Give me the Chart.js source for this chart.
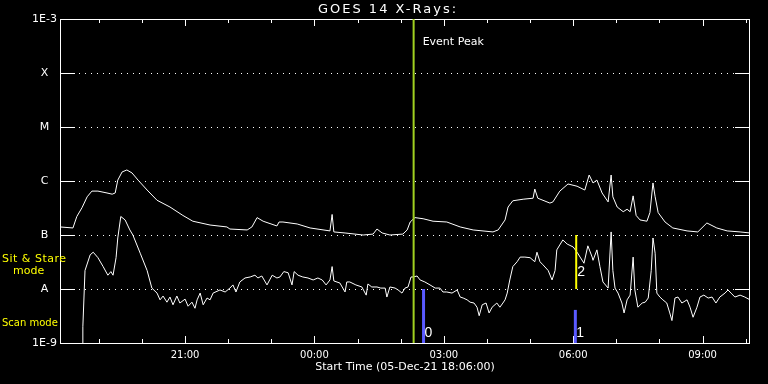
<!DOCTYPE html>
<html>
<head>
<meta charset="utf-8">
<script src="https://cdn.jsdelivr.net/npm/chart.js@4.4.0/dist/chart.umd.min.js"></script>
<style>
  html, body { margin: 0; padding: 0; background: #000; }
</style>
</head>
<body>
<canvas id="goes" width="768" height="384"></canvas>
<script>
// --- データ (時刻は 05-Dec-21 00:00 からの経過時間 [h]) ---
const longTime = [
  18.10, 18.40, 18.49, 18.61, 18.73, 18.84, 18.98, 19.19, 19.31, 19.38,
  19.44, 19.54, 19.65, 19.77, 19.91, 20.12, 20.35, 20.65, 20.95, 21.18,
  21.58, 21.97, 22.04, 22.44, 22.55, 22.67, 22.81, 23.13, 23.18, 23.27,
  23.60, 23.90, 24.36, 24.41, 24.45, 24.71, 25.13, 25.36, 25.45, 25.57,
  25.75, 26.05, 26.15, 26.22, 26.33, 26.52, 26.75, 27.07, 27.38, 27.68,
  28.14, 28.26, 28.42, 28.49, 28.60, 28.84, 29.07, 29.11, 29.18, 29.46,
  29.53, 29.69, 29.88, 30.09, 30.27, 30.37, 30.46, 30.55, 30.67, 30.81,
  30.88, 30.92, 31.02, 31.16, 31.25, 31.32, 31.39, 31.46, 31.55, 31.71,
  31.78, 31.85, 31.90, 31.97, 32.13, 32.31, 32.64, 32.89, 33.10, 33.33,
  33.57, 33.87, 34.10
];
const longFlux = [
  1.41e-7, 1.35e-7, 2.2e-7, 3.2e-7, 5.1e-7, 6.5e-7, 6.5e-7, 6.0e-7, 5.7e-7, 6.0e-7,
  1.04e-6, 1.47e-6, 1.6e-6, 1.41e-6, 1.04e-6, 6.8e-7, 4.4e-7, 3.3e-7, 2.3e-7, 1.8e-7,
  1.53e-7, 1.41e-7, 1.29e-7, 1.24e-7, 1.41e-7, 2.1e-7, 1.8e-7, 1.47e-7, 1.74e-7, 1.74e-7,
  1.6e-7, 1.35e-7, 1.19e-7, 2.4e-7, 1.14e-7, 1.09e-7, 1.0e-7, 1.04e-7, 1.29e-7, 1.09e-7,
  1.0e-7, 1.04e-7, 1.24e-7, 1.74e-7, 2.1e-7, 2.0e-7, 1.8e-7, 1.74e-7, 1.41e-7, 1.24e-7,
  1.14e-7, 1.24e-7, 1.9e-7, 3.3e-7, 4.3e-7, 4.6e-7, 4.8e-7, 7.1e-7, 4.8e-7, 3.9e-7,
  4.1e-7, 6.5e-7, 8.8e-7, 8.0e-7, 6.8e-7, 1.29e-6, 9.2e-7, 1.04e-6, 6.0e-7, 4.1e-7,
  1.29e-6, 5.1e-7, 3.3e-7, 2.7e-7, 3.0e-7, 2.7e-7, 5.3e-7, 2.3e-7, 1.9e-7, 1.8e-7,
  2.6e-7, 9.2e-7, 5.1e-7, 2.6e-7, 1.74e-7, 1.35e-7, 1.19e-7, 1.14e-7, 1.67e-7, 1.35e-7,
  1.19e-7, 1.14e-7, 1.09e-7
];

const shortTime = [
  18.63, 18.63, 18.68, 18.80, 18.87, 18.98, 19.10, 19.21, 19.28, 19.33,
  19.40, 19.44, 19.51, 19.61, 19.72, 19.79, 19.96, 20.12, 20.23, 20.35,
  20.42, 20.49, 20.58, 20.65, 20.72, 20.81, 20.88, 21.00, 21.07, 21.16,
  21.23, 21.28, 21.35, 21.42, 21.51, 21.58, 21.65, 21.81, 21.93, 22.04,
  22.11, 22.18, 22.27, 22.39, 22.51, 22.62, 22.69, 22.78, 22.90, 23.02,
  23.13, 23.20, 23.29, 23.39, 23.48, 23.53, 23.62, 23.73, 23.85, 23.97,
  24.08, 24.18, 24.27, 24.36, 24.41, 24.45, 24.59, 24.71, 24.75, 24.82,
  24.96, 25.10, 25.20, 25.24, 25.33, 25.45, 25.54, 25.64, 25.68, 25.75,
  25.87, 25.94, 26.03, 26.10, 26.17, 26.24, 26.29, 26.38, 26.45, 26.56,
  26.68, 26.80, 26.91, 26.98, 27.07, 27.19, 27.31, 27.38, 27.45, 27.54,
  27.61, 27.70, 27.77, 27.82, 27.89, 27.98, 28.05, 28.12, 28.23, 28.30,
  28.37, 28.42, 28.47, 28.53, 28.60, 28.70, 28.77, 28.88, 29.00, 29.11,
  29.16, 29.23, 29.30, 29.42, 29.51, 29.58, 29.62, 29.76, 29.86, 30.00,
  30.09, 30.16, 30.25, 30.34, 30.44, 30.46, 30.55, 30.62, 30.69, 30.81,
  30.88, 30.92, 30.97, 31.04, 31.13, 31.18, 31.25, 31.32, 31.39, 31.43,
  31.50, 31.60, 31.67, 31.74, 31.81, 31.85, 31.90, 31.94, 32.01, 32.08,
  32.17, 32.24, 32.29, 32.36, 32.43, 32.52, 32.64, 32.71, 32.78, 32.87,
  32.94, 33.03, 33.13, 33.22, 33.31, 33.40, 33.52, 33.59, 33.66, 33.75,
  33.87, 33.98, 34.10
];
const shortFlux = [
  1.0e-9, 2.0e-9, 2.2e-8, 4.3e-8, 4.8e-8, 3.8e-8, 2.6e-8, 1.8e-8, 2.1e-8, 1.8e-8,
  3.8e-8, 8.8e-8, 2.2e-7, 1.9e-7, 1.24e-7, 1.0e-7, 4.6e-8, 2.2e-8, 1.04e-8, 8.4e-9,
  6.3e-9, 7.4e-9, 5.7e-9, 7.1e-9, 5.1e-9, 7.4e-9, 5.5e-9, 6.5e-9, 4.8e-9, 5.7e-9,
  4.4e-9, 6.3e-9, 8.4e-9, 5.1e-9, 6.8e-9, 6.3e-9, 8.4e-9, 9.6e-9, 8.8e-9, 1.04e-8,
  1.19e-8, 8.8e-9, 1.35e-8, 1.6e-8, 1.67e-8, 1.8e-8, 1.6e-8, 1.74e-8, 1.19e-8, 1.8e-8,
  1.6e-8, 1.67e-8, 2.1e-8, 2.0e-8, 1.19e-8, 2.1e-8, 1.8e-8, 1.67e-8, 1.6e-8, 1.47e-8,
  1.6e-8, 1.47e-8, 1.19e-8, 1.47e-8, 2.6e-8, 1.41e-8, 1.29e-8, 8.8e-9, 1.35e-8, 1.35e-8,
  1.19e-8, 1.09e-8, 7.7e-9, 1.24e-8, 1.09e-8, 1.09e-8, 1.04e-8, 1.04e-8, 7.1e-9, 1.09e-8,
  1.04e-8, 9.6e-9, 8.4e-9, 1.04e-8, 1.09e-8, 1.67e-8, 1.67e-8, 1.74e-8, 1.47e-8, 1.35e-8,
  1.19e-8, 1.04e-8, 1.04e-8, 8.8e-9, 8.8e-9, 8.4e-9, 9.6e-9, 7.1e-9, 6.8e-9, 6.3e-9,
  5.7e-9, 5.5e-9, 4.6e-9, 3.2e-9, 5.1e-9, 5.5e-9, 3.6e-9, 4.6e-9, 5.5e-9, 4.6e-9,
  5.5e-9, 6.3e-9, 8.4e-9, 1.47e-8, 2.6e-8, 3.2e-8, 3.9e-8, 3.9e-8, 3.8e-8, 3.2e-8,
  4.8e-8, 3.2e-8, 2.8e-8, 2.2e-8, 1.47e-8, 2.2e-8, 5.3e-8, 8.1e-8, 6.8e-8, 6.0e-8,
  4.8e-8, 3.9e-8, 3.0e-8, 6.3e-8, 3.9e-8, 3.4e-8, 5.3e-8, 2.6e-8, 1.35e-8, 1.04e-8,
  1.14e-7, 2.2e-8, 1.04e-8, 8.4e-9, 5.5e-9, 3.6e-9, 6.3e-9, 7.7e-9, 3.9e-8, 9.6e-9,
  4.6e-9, 5.5e-9, 5.7e-9, 6.8e-9, 2.2e-8, 8.8e-8, 4.6e-8, 8.4e-9, 7.1e-9, 6.3e-9,
  5.5e-9, 3.6e-9, 2.6e-9, 6.8e-9, 7.1e-9, 5.5e-9, 6.3e-9, 4.6e-9, 3.0e-9, 4.6e-9,
  7.1e-9, 7.7e-9, 6.8e-9, 7.1e-9, 5.5e-9, 7.1e-9, 8.4e-9, 9.6e-9, 8.4e-9, 7.1e-9,
  7.7e-9, 7.1e-9, 6.3e-9
];

// 軸
const fluxLevels = [1e-9, 1e-8, 1e-7, 1e-6, 1e-5, 1e-4, 1e-3];
const fluxLabels = ["1E-9", "A", "B", "C", "M", "X", "1E-3"];
const hourTicks = [19, 20, 21, 22, 23, 24, 25, 26, 27, 28, 29, 30, 31, 32, 33, 34];
const labelHours = [21, 24, 27, 30, 33];
const labelTexts = ["21:00", "00:00", "03:00", "06:00", "09:00"];
const timeRange = [18.1, 34.1];

// マーカー
const peakTime = 26.30;
const scanTimes = [26.53, 30.05];
const scanTops = [1e-8, 4.1e-9];
const scanNames = ["0", "1"];
const stareTimes = [30.07];
const stareRange = [1e-8, 1e-7];
const stareNames = ["2"];

const toXY = (ts, vs) => ts.map((t, i) => ({ x: t, y: vs[i] }));

function lineDs(data, color, width, order) {
  return { data, borderColor: color, borderWidth: width, pointRadius: 0, tension: 0, order };
}

const datasets = [
  lineDs(toXY(longTime, longFlux), "#fff", 1, 2),
  lineDs(toXY(shortTime, shortFlux), "#fff", 1, 2),
  lineDs([{ x: peakTime, y: 1e-9 }, { x: peakTime, y: 1e-3 }], "#a0d020", 2, 0)
];
scanTimes.forEach((t, i) => datasets.push(lineDs([{ x: t, y: 1e-9 }, { x: t, y: scanTops[i] }], "#5a5aff", 3, 1)));
stareTimes.forEach(t => datasets.push(lineDs([{ x: t, y: stareRange[0] }, { x: t, y: stareRange[1] }], "#ffff00", 2, 0)));

// --- 枠・目盛り・文字 ---
const goesFrame = {
  id: "goesFrame",
  beforeDatasetsDraw(chart) {
    const { ctx, chartArea: a, scales: { x, y } } = chart;
    ctx.save();
    ctx.strokeStyle = "#fff";
    ctx.lineWidth = 1;
    const seg = (x1, y1, x2, y2) => { ctx.beginPath(); ctx.moveTo(x1, y1); ctx.lineTo(x2, y2); ctx.stroke(); };

    // 水平グリッド（点線）
    fluxLevels.slice(1, -1).forEach(v => {
      const py = Math.round(y.getPixelForValue(v)) + 0.5;
      ctx.setLineDash([]);
      seg(a.left, py, a.left + 15, py);
      seg(a.right - 15, py, a.right, py);
      ctx.setLineDash([1, 5]);
      seg(a.left + 19, py, a.right - 15, py);
    });
    ctx.setLineDash([]);

    // 枠
    ctx.strokeRect(a.left + 0.5, a.top + 0.5, a.right - a.left - 1, a.bottom - a.top);

    // 時刻の目盛り
    hourTicks.forEach(h => {
      const px = Math.round(x.getPixelForValue(h)) + 0.5;
      const len = labelHours.includes(h) ? 7 : 4;
      seg(px, a.bottom, px, a.bottom - len);
      seg(px, a.top, px, a.top + len);
    });
    ctx.restore();
  },
  afterDraw(chart) {
    const { ctx, chartArea: a, scales: { x, y } } = chart;
    ctx.save();
    ctx.fillStyle = "#fff";
    ctx.textBaseline = "middle";

    ctx.font = '13px "DejaVu Sans"';
    ctx.textAlign = "center";
    ctx.letterSpacing = "2px";
    ctx.fillText("GOES 14 X-Rays:", 388, 10);
    ctx.letterSpacing = "0px";

    ctx.font = '11px "DejaVu Sans"';
    fluxLevels.forEach((v, i) => ctx.fillText(fluxLabels[i], 44.5, y.getPixelForValue(v)));

    ctx.font = '10px "DejaVu Sans"';
    labelHours.forEach((h, i) => ctx.fillText(labelTexts[i], x.getPixelForValue(h), 355));

    ctx.font = '11px "DejaVu Sans"';
    ctx.fillText("Start Time (05-Dec-21 18:06:00)", (a.left + a.right) / 2, 367);

    ctx.textAlign = "left";
    ctx.fillText("Event Peak", x.getPixelForValue(peakTime) + 9, 42);

    ctx.font = '14px "Liberation Sans"';
    ctx.textBaseline = "bottom";
    scanTimes.forEach((t, i) => ctx.fillText(scanNames[i], x.getPixelForValue(t) + 1, a.bottom - 3));
    stareTimes.forEach((t, i) => ctx.fillText(stareNames[i], x.getPixelForValue(t) + 1, y.getPixelForValue(stareRange[0]) - 10));

    ctx.fillStyle = "#ffff00";
    ctx.textBaseline = "middle";
    ctx.font = '11px "DejaVu Sans"';
    ctx.letterSpacing = "0.5px";
    ctx.fillText("Sit & Stare", 2, 259);
    ctx.letterSpacing = "0px";
    ctx.fillText("mode", 13, 271);
    ctx.font = '10px "DejaVu Sans"';
    ctx.fillText("Scan mode", 2, 323);
    ctx.restore();
  }
};

new Chart(document.getElementById("goes").getContext("2d"), {
  type: "line",
  data: { datasets },
  options: {
    responsive: false,
    animation: false,
    devicePixelRatio: 1,
    layout: { padding: { left: 60, right: 18, top: 19, bottom: 41 } },
    scales: {
      x: { type: "linear", min: timeRange[0], max: timeRange[1], display: false },
      y: { type: "logarithmic", min: fluxLevels[0], max: fluxLevels[fluxLevels.length - 1], display: false }
    },
    plugins: { legend: { display: false }, tooltip: { enabled: false } }
  },
  plugins: [goesFrame]
});
</script>
</body>
</html>
